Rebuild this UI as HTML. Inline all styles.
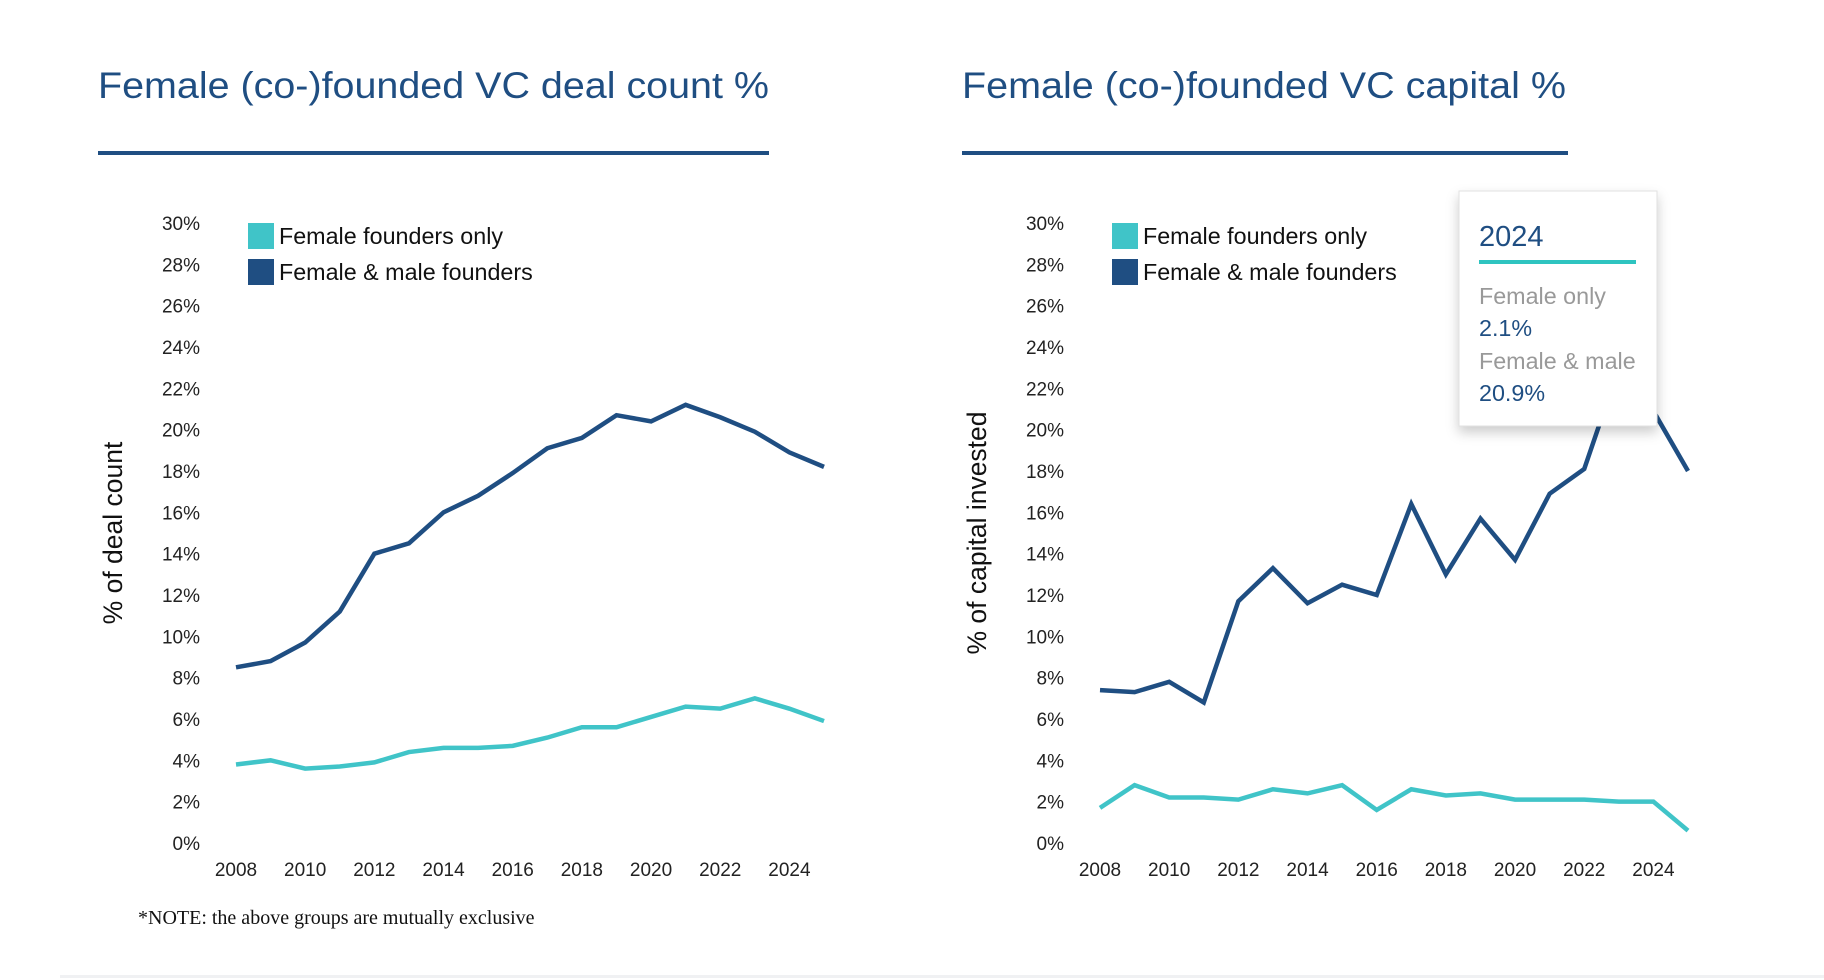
<!DOCTYPE html>
<html><head><meta charset="utf-8"><style>
html,body{margin:0;padding:0;background:#fff;width:1824px;height:980px;overflow:hidden;font-family:"Liberation Sans",sans-serif}
svg text{font-family:"Liberation Sans",sans-serif}
</style></head><body>
<svg id="root" width="1824" height="980" viewBox="0 0 1824 980" xmlns="http://www.w3.org/2000/svg">
<rect x="60" y="975" width="1764" height="3" fill="#f0f1f3"/>
<text x="138" y="924" font-size="20" fill="#111" style="font-family:'Liberation Serif',serif">*NOTE: the above groups are mutually exclusive</text>
</svg>
<script>
const years = [2008,2009,2010,2011,2012,2013,2014,2015,2016,2017,2018,2019,2020,2021,2022,2023,2024,2025];
const xTickLabels = [2008,2010,2012,2014,2016,2018,2020,2022,2024];
const yTickValues = [0,2,4,6,8,10,12,14,16,18,20,22,24,26,28,30];
const dealFemaleOnly = [3.8,4.0,3.6,3.7,3.9,4.4,4.6,4.6,4.7,5.1,5.6,5.6,6.1,6.6,6.5,7.0,6.5,5.9];
const dealFemaleMale = [8.5,8.8,9.7,11.2,14.0,14.5,16.0,16.8,17.9,19.1,19.6,20.7,20.4,21.2,20.6,19.9,18.9,18.2];
const capFemaleOnly = [1.7,2.8,2.2,2.2,2.1,2.6,2.4,2.8,1.6,2.6,2.3,2.4,2.1,2.1,2.1,2.0,2.0,0.6];
const capFemaleMale = [7.4,7.3,7.8,6.8,11.7,13.3,11.6,12.5,12.0,16.4,13.0,15.7,13.7,16.9,18.1,23.0,20.9,18.0];
const tooltipYear = "2024";
const tooltipFemaleOnly = "2.1%";
const tooltipFemaleMale = "20.9%";

const NS="http://www.w3.org/2000/svg";
const root=document.getElementById('root');
function mk(tag,attrs,parent,text){const e=document.createElementNS(NS,tag);for(const k in attrs)e.setAttribute(k,attrs[k]);if(text!==undefined)e.textContent=text;(parent||root).appendChild(e);return e;}
const TEAL="#40c4c8", NAVY="#1f4e82";

function drawChart(cfg){
  const g=mk('g',{});
  
  
  const x0=cfg.x0,x1=cfg.x1,yTop=223,yBot=843;
  const xs=v=>x0+(v-2008)/(2025-2008)*(x1-x0);
  const ys=v=>yBot-v/30*(yBot-yTop);
  const t=mk('text',{x:cfg.tx,y:98,'font-size':37,fill:NAVY,textLength:cfg.tw,lengthAdjust:'spacingAndGlyphs'},g,cfg.title);
  
  
  const u=mk('rect',{x:cfg.tx,y:151,width:cfg.uw,height:4,fill:NAVY},g);
  
  
  yTickValues.forEach(v=>{
    const e=mk('text',{x:x0-36,y:ys(v)+7,'font-size':19,fill:'#222','text-anchor':'end'},g,v+'%');
    
    
  });
  xTickLabels.forEach(v=>{
    const e=mk('text',{x:xs(v),y:876,'font-size':19,fill:'#222','text-anchor':'middle'},g,String(v));
    
    
  });
  const yt=mk('text',{transform:`translate(${cfg.ytx},533) rotate(-90)`,'font-size':26.5,fill:'#111','text-anchor':'middle'},g,cfg.ytitle);
  
  
  [[cfg.a,TEAL,'series-female-only'],[cfg.b,NAVY,'series-female-male']].forEach(([arr,c,n])=>{
    const p=mk('polyline',{points:arr.map((v,i)=>xs(years[i])+','+ys(v)).join(' '),fill:'none',stroke:c,'stroke-width':4.5,'stroke-linejoin':'miter'},g);
    
    
  });
  const lx=x0+12;
  [['Female founders only',TEAL,223],['Female & male founders',NAVY,259]].forEach(([l,c,y])=>{
    const s=mk('rect',{x:lx,y:y,width:26,height:26,fill:c},g);
    
    
    const lt=mk('text',{x:lx+31,y:y+21,'font-size':23.3,fill:'#111'},g,l);
    
    
  });
  return g;
}
drawChart({name:'deal-count-chart',x0:236,x1:824,tx:98,tw:671,uw:671,title:'Female (co-)founded VC deal count %',ytitle:'% of deal count',ytx:122,a:dealFemaleOnly,b:dealFemaleMale});
drawChart({name:'capital-chart',x0:1100,x1:1688,tx:962,tw:604,uw:606,title:'Female (co-)founded VC capital %',ytitle:'% of capital invested',ytx:986,a:capFemaleOnly,b:capFemaleMale});

const defs=mk('defs',{});
const f=mk('filter',{id:'sh',x:'-20%',y:'-20%',width:'140%',height:'150%'},defs);
mk('feDropShadow',{dx:0,dy:6,stdDeviation:6,'flood-color':'#000','flood-opacity':0.2},f);
const tg=mk('g',{});


mk('rect',{x:1459,y:191,width:198,height:235,fill:'#fff',stroke:'#e2e2e2','stroke-width':1,filter:'url(#sh)'},tg);
const ty=mk('text',{x:1479,y:246,'font-size':29,fill:NAVY},tg,tooltipYear);


mk('rect',{x:1479,y:260,width:157,height:4,fill:'#2ec4c0'},tg);
const rows=[['Female only','#999',304],[tooltipFemaleOnly,NAVY,336],['Female & male','#999',369],[tooltipFemaleMale,NAVY,401]];
rows.forEach(([s,c,y])=>{
  const e=mk('text',{x:1479,y:y,'font-size':23.3,fill:c},tg,s);
  
  
});
</script>
</body></html>
